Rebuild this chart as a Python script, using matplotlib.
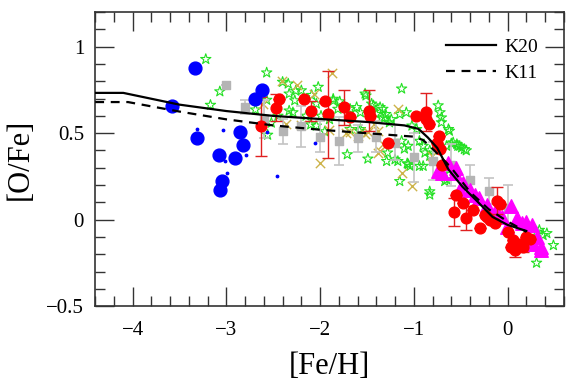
import matplotlib
matplotlib.use("Agg")
import matplotlib.pyplot as plt
from matplotlib.ticker import MultipleLocator

plt.rcParams['font.family'] = ['Liberation Serif', 'DejaVu Serif']
plt.rcParams['axes.unicode_minus'] = True

# model tracks
k20_x = [-4.4, -4.1, -3.5, -3.0, -2.5, -2.0, -1.5, -1.1, -0.95, -0.85, -0.75, -0.63, -0.48, -0.33, -0.16, 0.0, 0.2]
k20_y = [0.733, 0.733, 0.665, 0.628, 0.600, 0.582, 0.565, 0.545, 0.525, 0.475, 0.415, 0.29, 0.19, 0.11, 0.016, -0.03, -0.065]
k11_x = [-4.4, -4.05, -3.5, -3.0, -2.5, -2.0, -1.5, -1.0, -0.9, -0.8, -0.6, -0.4, -0.2, 0.0, 0.2]
k11_y = [0.68, 0.68, 0.625, 0.58, 0.545, 0.52, 0.50, 0.48, 0.46, 0.41, 0.30, 0.16, 0.06, -0.01, -0.07]

# large blue circles
blue_x = [-3.58, -3.33, -3.31, -3.08, -3.07, -3.05, -2.91, -2.86, -2.82, -2.69, -2.62]
blue_y = [0.656, 0.879, 0.475, 0.372, 0.169, 0.222, 0.354, 0.506, 0.434, 0.698, 0.749]

# small blue dots
dot_x = [-3.31, -3.04, -2.79, -3.01, -2.99, -2.57, -2.05, -2.46]
dot_y = [0.523, 0.516, 0.372, 0.342, 0.272, 0.507, 0.446, 0.251]

# grey binned squares
grey_x = [-3.0, -2.8, -2.6, -2.4, -2.2, -2.0, -1.8, -1.6, -1.4, -1.2, -1.0, -0.8, -0.6, -0.4, -0.2, 0.0]
grey_y = [0.78, 0.65, 0.58, 0.51, 0.54, 0.48, 0.455, 0.47, 0.48, 0.445, 0.36, 0.34, 0.315, 0.23, 0.165, 0.07]
grey_err = [0.0, 0.04, 0.11, 0.07, 0.12, 0.09, 0.14, 0.08, 0.09, 0.10, 0.14, 0.11, 0.12, 0.085, 0.075, 0.13]

# red circles with errors
red_x = [-2.63, -2.44, -2.47, -2.17, -2.10, -1.95, -1.92, -1.74, -1.68, -1.48, -1.47, -1.28,
         -0.98, -0.87, -0.87, -0.84, -0.73, -0.75, -0.72, -0.70, -0.545, -0.475, -0.57, -0.44,
         -0.37, -0.29, -0.24, -0.19, -0.11, -0.08, -0.136, -0.22, 0.006, 0.06, 0.13, 0.08,
         0.20, 0.24, 0.04, 0.17]
red_y = [0.54, 0.70, 0.648, 0.698, 0.628, 0.688, 0.609, 0.65, 0.592, 0.63, 0.598, 0.446,
         0.597, 0.62, 0.58, 0.556, 0.484, 0.446, 0.407, 0.315, 0.144, 0.099, 0.043, 0.008,
         0.057, -0.05, 0.027, -0.002, 0.11, 0.09, -0.021, 0.014, -0.07, -0.118, -0.138, -0.177,
         -0.099, -0.109, -0.157, -0.157]
red_err = [0.17, 0.0, 0.08, 0.0, 0.06, 0.0, 0.25, 0.10, 0.0, 0.12, 0.0, 0.0,
           0.0, 0.11, 0.0, 0.0, 0.0, 0.0, 0.0, 0.0, 0.0, 0.0, 0.08, 0.07,
           0.0, 0.0, 0.0, 0.0, 0.08, 0.0, 0.0, 0.0, 0.0, 0.0, 0.0, 0.04,
           0.0, 0.0, 0.0, 0.03]

# magenta triangles
mag_x = [-0.74, -0.63, -0.545, -0.475, -0.56, -0.51, -0.40, -0.30, -0.22, -0.12, -0.064, -0.01,
         0.04, 0.10, 0.15, 0.20, 0.26, 0.31, 0.27, 0.36, 0.36, -0.70, -0.35, -0.18]
mag_y = [0.28, 0.33, 0.30, 0.21, 0.27, 0.173, 0.173, 0.125, 0.086, 0.057, 0.018, -0.04,
         0.08, 0.008, -0.021, -0.012, -0.03, -0.10, -0.138, -0.157, -0.177, 0.27, 0.14, 0.03]

# green open stars
star_x = [-3.22, -3.07, -3.17, -2.57, -2.69, -2.57, -2.56, -2.40, -2.33, -2.27, -2.33, -2.29,
          -2.20, -2.09, -2.04, -2.04, -2.10, -1.86, -1.81, -1.79, -1.68, -1.61, -1.57, -1.52,
          -1.36, -1.33, -1.34, -1.30, -1.57, -1.68, -1.71, -1.49, -1.95, -2.15, -2.34, -2.26,
          -2.02, -1.86, -1.99, -1.51, -1.13, -1.43, -1.40, -1.31, -1.24, -1.15, -1.08, -1.02,
          -0.97, -0.74, -0.72, -0.705, -0.63, -0.58, -0.53, -0.46, -0.60, -1.29, -1.15, -1.04,
          -0.94, -0.88, -0.83, -0.83, -0.65, -1.58, -1.13, -1.26, -0.705, -0.62, -0.54, -0.49,
          -0.44, -0.94, -1.06, -1.10, -1.20, -1.06, -0.90, -0.83, -0.65, -0.51, -0.90, -0.67,
          -0.62, 0.31, 0.38, 0.42, 0.49, 0.31, 0.34, -0.83, -1.28, -1.17, -1.07, -2.45,
          -2.52, -1.90, -1.45]
star_y = [0.928, 0.741, 0.663, 0.85, 0.636, 0.692, 0.49, 0.796, 0.728, 0.689, 0.63, 0.62,
          0.747, 0.72, 0.67, 0.543, 0.55, 0.688, 0.64, 0.683, 0.64, 0.65, 0.62, 0.728,
          0.65, 0.64, 0.59, 0.61, 0.523, 0.523, 0.377, 0.352, 0.51, 0.60, 0.786, 0.745,
          0.767, 0.698, 0.60, 0.717, 0.757, 0.66, 0.61, 0.59, 0.58, 0.61, 0.62, 0.543,
          0.523, 0.66, 0.62, 0.59, 0.523, 0.446, 0.426, 0.407, 0.44, 0.338, 0.222, 0.31,
          0.31, 0.387, 0.368, 0.163, 0.232, 0.513, 0.455, 0.562, 0.562, 0.513, 0.436, 0.417,
          0.40, 0.455, 0.426, 0.41, 0.348, 0.32, 0.426, 0.40, 0.426, 0.426, 0.31, 0.222,
          0.29, -0.07, -0.09, -0.079, -0.148, -0.25, -0.06, 0.144, 0.387, 0.338, 0.325, 0.60,
          0.56, 0.58, 0.67]

# olive crosses
cross_x = [-2.61, -2.41, -2.25, -1.87, -2.36, -2.00, -1.68, -1.60, -1.49, -1.42, -1.38, -1.33,
           -2.06, -1.72, -1.52, -1.38, -1.36, -1.17, -1.13, -1.02, -0.81, -2.20, -1.90]
cross_y = [0.67, 0.80, 0.776, 0.85, 0.553, 0.325, 0.508, 0.485, 0.508, 0.553, 0.387, 0.436,
           0.728, 0.504, 0.494, 0.513, 0.397, 0.64, 0.27, 0.193, 0.368, 0.55, 0.52]

fig = plt.figure(figsize=(5.7, 3.91), dpi=100)
ax = fig.add_axes([0.167, 0.217, 0.822, 0.752])

ax.scatter(star_x, star_y, marker='*', s=60, facecolors='none', edgecolors='#22e022',
           linewidths=0.8, zorder=2)
ax.scatter(cross_x, cross_y, marker='x', s=45, color='#cdb34a', linewidths=1.0, zorder=2)

ax.errorbar(grey_x, grey_y, yerr=grey_err, fmt='none', ecolor='#c4c4c4', elinewidth=1.2,
            capsize=3.5, capthick=1.2, zorder=3)
ax.scatter(grey_x, grey_y, marker='s', s=36, color='#b4b4b4', zorder=3)

ax.scatter(mag_x, mag_y, marker='^', s=95, color='#ff00ff', zorder=4)

ax.errorbar(red_x, red_y, yerr=red_err, fmt='none', ecolor='#e02020', elinewidth=1.0,
            capsize=4.5, capthick=1.0, zorder=5)
ax.scatter(red_x, red_y, marker='o', s=60, color='#ff0000', zorder=5)

ax.scatter(blue_x, blue_y, marker='o', s=85, color='#0000ff', zorder=5)
ax.scatter(dot_x, dot_y, marker='o', s=3, color='#0000ff', zorder=5)

ax.plot(k20_x, k20_y, color='black', lw=1.6, label='K20', zorder=6)
ax.plot(k11_x, k11_y, color='black', lw=1.6, ls=(0, (4, 3)), label='K11', zorder=6)

ax.set_xlim(-4.4, 0.6)
ax.set_ylim(-0.5, 1.2)
ax.xaxis.set_major_locator(MultipleLocator(1))
ax.xaxis.set_minor_locator(MultipleLocator(0.2))
ax.yaxis.set_major_locator(MultipleLocator(0.5))
ax.yaxis.set_minor_locator(MultipleLocator(0.1))
ax.set_yticks([-0.5, 0, 0.5, 1])
ax.set_yticklabels(['\u22120.5', '0', '0.5', '1'])
ax.set_xticks([-4, -3, -2, -1, 0])
ax.set_xticklabels(['\u22124', '\u22123', '\u22122', '\u22121', '0'])
ax.tick_params(which='both', direction='in', top=True, right=True, color='#333333',
               labelsize=15, width=1.0)
ax.tick_params(axis='x', which='major', length=14, pad=11)
ax.tick_params(axis='y', which='major', length=14, pad=8)
ax.tick_params(which='minor', length=7)
for sp in ax.spines.values():
    sp.set_color('#333333')
    sp.set_linewidth(1.2)

ax.set_xlabel('[Fe/H]', fontsize=22, labelpad=8)
ax.set_ylabel('[O/Fe]', fontsize=22, labelpad=8)

leg = ax.legend(loc='upper right', bbox_to_anchor=(0.978, 0.965), frameon=False, fontsize=14,
                handlelength=2.6, handletextpad=0.4, borderaxespad=0.4, labelspacing=0.45)

fig.savefig('out.png', dpi=100)
